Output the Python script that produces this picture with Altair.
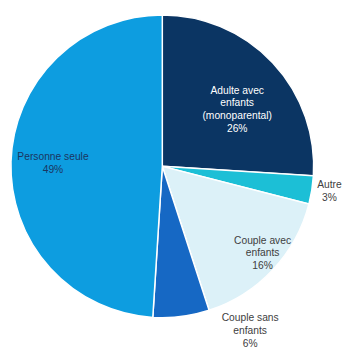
import altair as alt
import pandas as pd

# Data (clockwise from 12 o'clock)
categories = ["Adulte avec enfants (monoparental)", "Autre", "Couple avec enfants",
              "Couple sans enfants", "Personne seule"]
values = [26, 3, 16, 6, 49]
label_texts = ["Adulte avec\nenfants\n(monoparental)\n26%", "Autre\n3%",
               "Couple avec\nenfants\n16%", "Couple sans\nenfants\n6%",
               "Personne seule\n49%"]

# Style / layout
slice_colors = ["#0b3563", "#1cbfd6", "#dcf1f8", "#1668c4", "#0d9de0"]
label_colors = ["#ffffff", "#404040", "#404040", "#404040", "#1b3560"]
label_radius = [96, 173, 136, 191, 112]
label_shift_deg = [6.2, -0.5, -2.2, -20.9, -0.3]
LINE_H = 13

SIZE = 308
C = SIZE / 2

df = pd.DataFrame({
    "cat": categories,
    "value": values,
    "order": list(range(len(categories))),
    "label": label_texts,
    "fill": slice_colors,
    "tcolor": label_colors,
    "r": label_radius,
    "shift": label_shift_deg,
})

base = alt.Chart(df)

pie = base.mark_arc(stroke="white", strokeWidth=1.5, outerRadius=155).encode(
    theta=alt.Theta("value:Q", stack=True),
    order=alt.Order("order:Q", sort="ascending"),
    color=alt.Color("fill:N", scale=None),
)

labels = base.transform_window(
    cum="sum(value)", sort=[alt.SortField("order", order="ascending")], frame=[None, 0]
).transform_joinaggregate(
    total="sum(value)"
).transform_calculate(
    ang="(datum.cum - datum.value/2) / datum.total * 2 * PI + datum.shift * PI / 180",
    nl="length(split(datum.label, '\\n'))",
).transform_calculate(
    lx=f"{C} + datum.r * sin(datum.ang)",
    ly=f"{C} - datum.r * cos(datum.ang) - (datum.nl - 1) * {LINE_H} / 2",
).mark_text(
    lineBreak="\n", font="Liberation Sans", fontSize=10.5, lineHeight=LINE_H,
    align="center", baseline="middle"
).encode(
    x=alt.X("lx:Q", scale=None, axis=None),
    y=alt.Y("ly:Q", scale=None, axis=None),
    text="label:N",
    color=alt.Color("tcolor:N", scale=None),
)

chart = alt.layer(pie, labels).properties(
    width=SIZE, height=SIZE, padding=0
).configure_view(stroke=None)

chart.save("out.html", embed_options={"renderer": "svg", "actions": False})
